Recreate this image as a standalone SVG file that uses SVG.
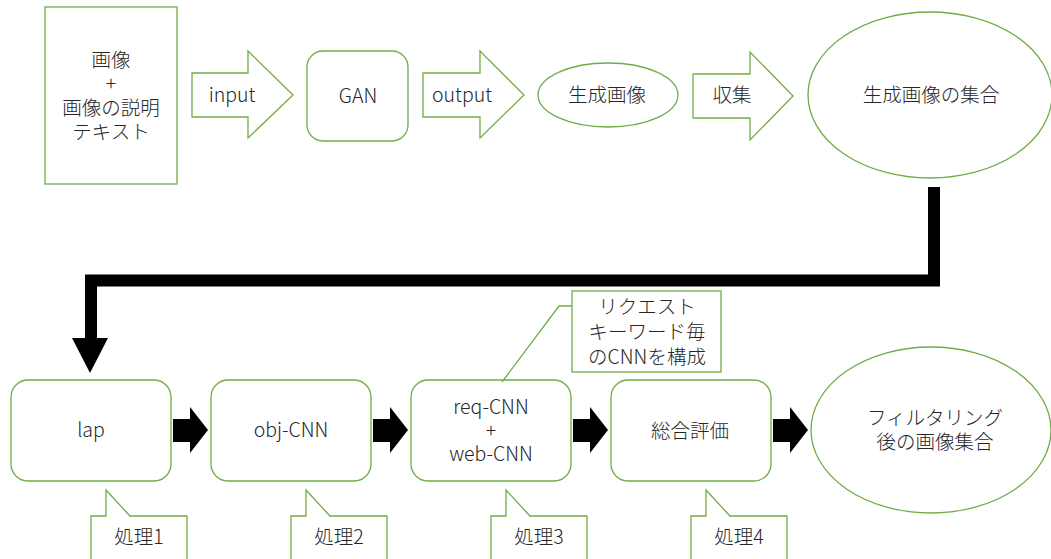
<svg xmlns="http://www.w3.org/2000/svg" width="1051" height="559" viewBox="0 0 1051 559">
<style>
.g{fill:#fff;stroke:#70AD47;stroke-width:1.3}
.t{font-family:"Noto Sans CJK JP","Noto Sans",sans-serif;font-size:19.5px;font-weight:300;fill:#262626;text-anchor:middle}
.b{fill:#000;stroke:none}
</style>
<rect width="1051" height="559" fill="#fff"/>
<g id="connectors">
<polygon class="g" points="192,73 248,73 248,51 293,95 248,138 248,117 192,117"/>
<text class="t" x="232" y="102">input</text>
<polygon class="g" points="423,73 480,73 480,51 524,95 480,138 480,117 423,117"/>
<text class="t" x="462" y="102">output</text>
<polygon class="g" points="693,74 750,74 750,52 793,96 750,140 750,118 693,118"/>
<text class="t" x="732" y="102">収集</text>
<polyline points="934,187 934,280.5 91,280.5 91,339" fill="none" stroke="#000" stroke-width="12" stroke-linejoin="miter"/>
<polygon class="b" points="72,338 108,338 90,373"/>
<polygon class="b" points="173,419 190,419 190,407 208,430 190,453 190,442 173,442"/>
<polygon class="b" points="373,419 390,419 390,407 408,430 390,453 390,442 373,442"/>
<polygon class="b" points="573,419 590,419 590,407 608,430 590,453 590,442 573,442"/>
<polygon class="b" points="773,419 790,419 790,407 808,430 790,453 790,442 773,442"/>
</g>
<g id="n-input">
<rect class="g" x="45" y="7" width="132" height="177"/>
<text class="t" x="111" y="67">画像</text>
<text class="t" x="111" y="91">+</text>
<text class="t" x="111" y="115">画像の説明</text>
<text class="t" x="111" y="139">テキスト</text>
</g>
<g id="n-gan">
<rect class="g" x="307" y="51" width="101" height="90" rx="16"/>
<text class="t" x="358" y="103">GAN</text>
</g>
<g id="n-gen">
<ellipse class="g" cx="608" cy="95" rx="70" ry="32"/>
<text class="t" x="607" y="102">生成画像</text>
</g>
<g id="n-set">
<ellipse class="g" cx="930" cy="95" rx="122" ry="83"/>
<text class="t" x="931" y="102">生成画像の集合</text>
</g>
<g id="n-lap">
<rect class="g" x="11" y="380" width="160" height="101" rx="17"/>
<text class="t" x="91" y="437">lap</text>
</g>
<g id="n-obj">
<rect class="g" x="211" y="380" width="160" height="101" rx="17"/>
<text class="t" x="291" y="437">obj-CNN</text>
</g>
<g id="n-req">
<rect class="g" x="411" y="380" width="160" height="101" rx="17"/>
<text class="t" x="491" y="414">req-CNN</text>
<text class="t" x="491" y="438">+</text>
<text class="t" x="491" y="461">web-CNN</text>
</g>
<g id="n-eval">
<rect class="g" x="611" y="380" width="160" height="101" rx="17"/>
<text class="t" x="690" y="438">総合評価</text>
</g>
<g id="n-final">
<ellipse class="g" cx="931" cy="430" rx="120" ry="83"/>
<text class="t" x="935" y="425">フィルタリング</text>
<text class="t" x="935" y="449">後の画像集合</text>
</g>
<g id="c-req">
<polyline points="572,306 559,306 502,382" fill="none" stroke="#70AD47" stroke-width="1.3"/>
<rect class="g" x="572" y="291" width="149" height="81"/>
<text class="t" x="647" y="314">リクエスト</text>
<text class="t" x="647" y="339">キーワード毎</text>
<text class="t" x="647" y="364">のCNNを構成</text>
</g>
<g id="c-1">
<path class="g" d="M91,516 L106,516 L106,490 L130,516 L187,516 L187,570 L91,570 Z"/>
<text class="t" x="139" y="544">処理1</text>
</g>
<g id="c-2">
<path class="g" d="M291,516 L306,516 L306,490 L330,516 L387,516 L387,570 L291,570 Z"/>
<text class="t" x="339" y="544">処理2</text>
</g>
<g id="c-3">
<path class="g" d="M491,516 L506,516 L506,490 L530,516 L587,516 L587,570 L491,570 Z"/>
<text class="t" x="539" y="544">処理3</text>
</g>
<g id="c-4">
<path class="g" d="M691,516 L706,516 L706,490 L730,516 L787,516 L787,570 L691,570 Z"/>
<text class="t" x="739" y="544">処理4</text>
</g>
</svg>
